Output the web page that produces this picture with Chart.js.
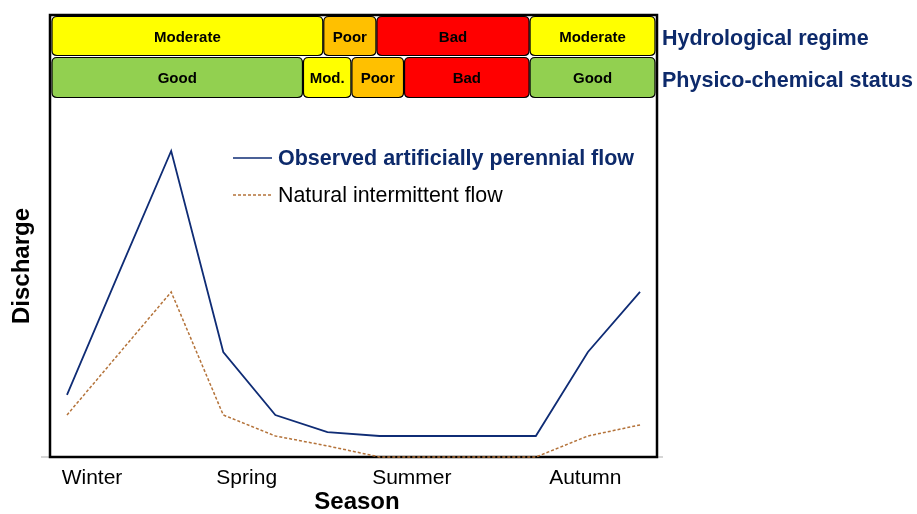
<!DOCTYPE html>
<html>
<head>
<meta charset="utf-8">
<script src="https://cdn.jsdelivr.net/npm/chart.js@4.4.1/dist/chart.umd.min.js"></script>
<style>
  html, body { margin: 0; padding: 0; background: #fff; }
  canvas { display: block; }
</style>
</head>
<body>
<canvas id="dischargeChart" width="917" height="514"></canvas>
<script>
// months of the hydrological year, one point each
const months = ['Jan', 'Feb', 'Mar', 'Apr', 'May', 'Jun', 'Jul', 'Aug', 'Sep', 'Oct', 'Nov', 'Dec'];
const observedFlow = [20.7, 61.5, 102, 35, 14, 8.3, 7, 7, 7, 7, 35, 55];
const naturalFlow = [14, 34.5, 55, 14, 7, 3.7, 0, 0, 0, 0, 7, 10.7];

const seasons = ['Winter', 'Spring', 'Summer', 'Autumn'];
const seasonTicks = [0.48, 3.45, 6.62, 9.95];

// status bands, bounds given on the month axis
const hydroLabels = ['Moderate', 'Poor', 'Bad', 'Moderate'];
const hydroBounds = [-0.33, 4.92, 5.94, 8.88, 11.33];
const physicoLabels = ['Good', 'Mod.', 'Poor', 'Bad', 'Good'];
const physicoBounds = [-0.33, 4.53, 5.46, 6.47, 8.88, 11.33];

const statusColors = {
    'Good': '#92d050',
    'Moderate': '#ffff00',
    'Mod.': '#ffff00',
    'Poor': '#ffc000',
    'Bad': '#ff0000'
};

const NAVY = '#0f2c75';
const BROWN = '#b4733a';
const FONT = '"Liberation Sans", Arial, sans-serif';

function roundRect(ctx, x, y, w, h, r) {
    ctx.beginPath();
    ctx.moveTo(x + r, y);
    ctx.lineTo(x + w - r, y);
    ctx.quadraticCurveTo(x + w, y, x + w, y + r);
    ctx.lineTo(x + w, y + h - r);
    ctx.quadraticCurveTo(x + w, y + h, x + w - r, y + h);
    ctx.lineTo(x + r, y + h);
    ctx.quadraticCurveTo(x, y + h, x, y + h - r);
    ctx.lineTo(x, y + r);
    ctx.quadraticCurveTo(x, y, x + r, y);
    ctx.closePath();
}

function drawBandRow(chart, labels, bounds, top, bottom) {
    const ctx = chart.ctx;
    const xs = chart.scales.x;
    const area = chart.chartArea;
    labels.forEach((label, i) => {
        let x0 = Math.max(xs.getPixelForValue(bounds[i]), area.left + 1.5);
        let x1 = Math.min(xs.getPixelForValue(bounds[i + 1]), area.right - 1.5);
        x0 += 0.5;
        x1 -= 0.5;
        roundRect(ctx, x0, top, x1 - x0, bottom - top, 5);
        ctx.fillStyle = statusColors[label];
        ctx.fill();
        ctx.lineWidth = 1.2;
        ctx.strokeStyle = '#000';
        ctx.stroke();
        ctx.fillStyle = '#000';
        ctx.font = 'bold 15px ' + FONT;
        ctx.textAlign = 'center';
        ctx.textBaseline = 'middle';
        ctx.fillText(label, (x0 + x1) / 2, (top + bottom) / 2 + 1.5);
    });
}

const decorations = {
    id: 'decorations',
    beforeDatasetsDraw(chart) {
        const ctx = chart.ctx;
        const area = chart.chartArea;
        ctx.save();
        // faint baseline reaching out past the frame
        ctx.strokeStyle = '#c8c8c8';
        ctx.lineWidth = 1.5;
        ctx.beginPath();
        ctx.moveTo(41, area.bottom);
        ctx.lineTo(area.right + 6, area.bottom);
        ctx.stroke();
        // frame
        ctx.strokeStyle = '#000';
        ctx.lineWidth = 2.5;
        ctx.strokeRect(area.left, area.top, area.right - area.left, area.bottom - area.top);
        ctx.restore();
    },
    afterDatasetsDraw(chart) {
        const ctx = chart.ctx;
        ctx.save();

        // status bands
        drawBandRow(chart, hydroLabels, hydroBounds, 16.5, 55.5);
        drawBandRow(chart, physicoLabels, physicoBounds, 57.5, 97.5);

        // row names
        ctx.fillStyle = '#0d2a6b';
        ctx.font = 'bold 21.5px ' + FONT;
        ctx.textAlign = 'left';
        ctx.textBaseline = 'middle';
        ctx.fillText('Hydrological regime', 662, 39);
        ctx.fillText('Physico-chemical status', 662, 81);

        // legend
        ctx.lineWidth = 1.6;
        ctx.strokeStyle = NAVY;
        ctx.beginPath();
        ctx.moveTo(233, 158);
        ctx.lineTo(272, 158);
        ctx.stroke();
        ctx.fillStyle = '#0d2a6b';
        ctx.font = 'bold 21.5px ' + FONT;
        ctx.fillText('Observed artificially perennial flow', 278, 159);

        ctx.strokeStyle = BROWN;
        ctx.lineWidth = 1.3;
        ctx.setLineDash([3, 2]);
        ctx.beginPath();
        ctx.moveTo(233, 195);
        ctx.lineTo(272, 195);
        ctx.stroke();
        ctx.setLineDash([]);
        ctx.fillStyle = '#000';
        ctx.font = '21.4px ' + FONT;
        ctx.fillText('Natural intermittent flow', 278, 196);

        // axis titles
        ctx.font = 'bold 24px ' + FONT;
        ctx.textAlign = 'center';
        ctx.fillText('Season', 357, 502);
        ctx.translate(22, 266);
        ctx.rotate(-Math.PI / 2);
        ctx.fillText('Discharge', 0, 0);

        ctx.restore();
    }
};

const ctx = document.getElementById('dischargeChart').getContext('2d');
new Chart(ctx, {
    type: 'line',
    data: {
        labels: months,
        datasets: [{
            label: 'Observed artificially perennial flow',
            data: observedFlow.map((v, i) => ({ x: i, y: v })),
            borderColor: NAVY,
            borderWidth: 1.8,
            pointRadius: 0,
            tension: 0,
            fill: false
        }, {
            label: 'Natural intermittent flow',
            data: naturalFlow.map((v, i) => ({ x: i, y: v })),
            borderColor: BROWN,
            borderWidth: 1.5,
            borderDash: [3, 2],
            pointRadius: 0,
            tension: 0,
            fill: false
        }]
    },
    options: {
        responsive: false,
        animation: false,
        clip: false,
        layout: {
            padding: { left: 50, right: 260, top: 15, bottom: 0 }
        },
        plugins: {
            legend: { display: false },
            tooltip: { enabled: false }
        },
        scales: {
            x: {
                type: 'linear',
                min: -0.326,
                max: 11.326,
                grid: { display: false, drawTicks: false },
                border: { display: false },
                afterBuildTicks(scale) {
                    scale.ticks = seasonTicks.map(v => ({ value: v }));
                },
                afterFit(scale) {
                    scale.height = 57;
                },
                ticks: {
                    autoSkip: false,
                    maxRotation: 0,
                    padding: 9,
                    color: '#000',
                    font: { family: FONT, size: 21 },
                    callback: (value, index) => seasons[index]
                }
            },
            y: {
                display: false,
                min: 0,
                max: 147.3
            }
        }
    },
    plugins: [decorations]
});
</script>
</body>
</html>
